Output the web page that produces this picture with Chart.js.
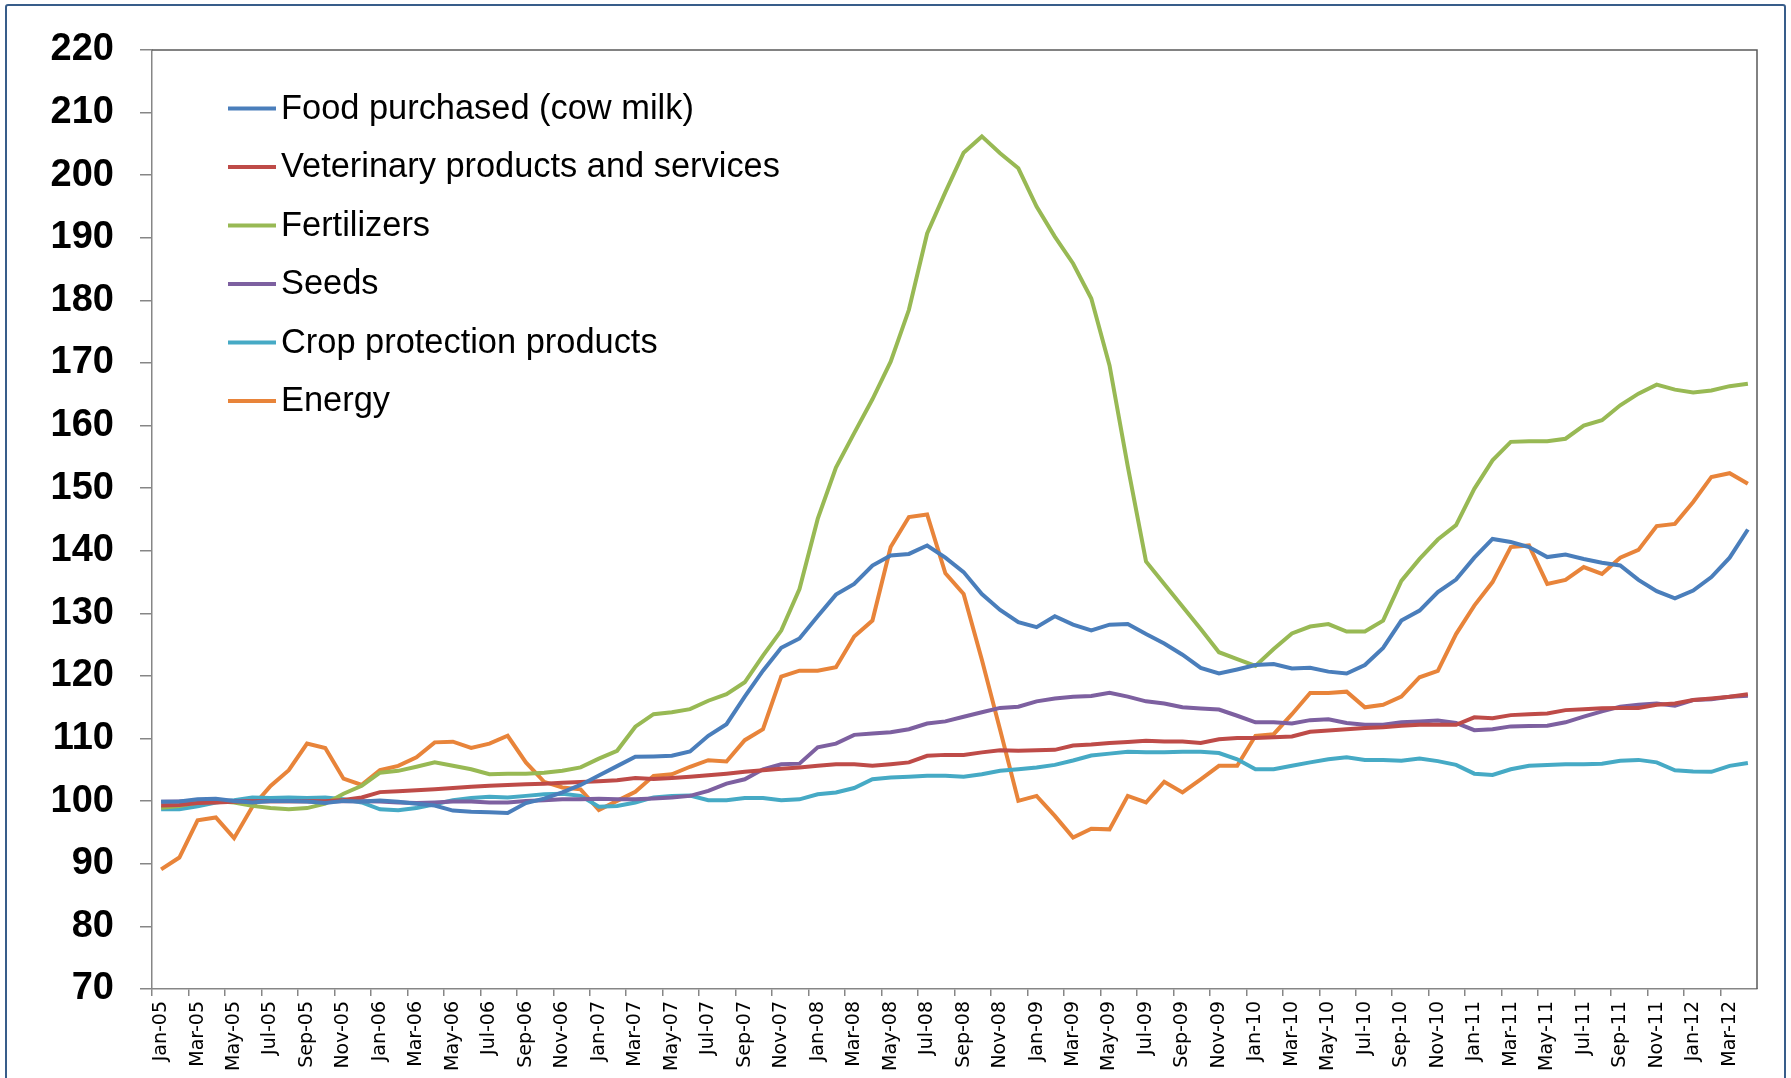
<!DOCTYPE html>
<html>
<head>
<meta charset="utf-8">
<script src="https://cdn.jsdelivr.net/npm/chart.js@4.4.1/dist/chart.umd.min.js"></script>
<style>
  html, body { margin: 0; padding: 0; background: #fff; overflow: hidden; }
  #wrap { position: relative; width: 1791px; height: 1078px; }
  #chart { position: absolute; left: 0; top: 0; }
  #frame {
    position: absolute; left: 5px; top: 4px; width: 1777px; height: 1200px;
    border: 2.5px solid #385d8a; border-radius: 3px; pointer-events: none;
  }
</style>
</head>
<body>
<div id="wrap">
  <canvas id="chart" width="1791" height="1078"></canvas>
  <div id="frame"></div>
</div>
<script>
const months = [
  "Jan-05","Feb-05","Mar-05","Apr-05","May-05","Jun-05","Jul-05","Aug-05","Sep-05","Oct-05","Nov-05","Dec-05",
  "Jan-06","Feb-06","Mar-06","Apr-06","May-06","Jun-06","Jul-06","Aug-06","Sep-06","Oct-06","Nov-06","Dec-06",
  "Jan-07","Feb-07","Mar-07","Apr-07","May-07","Jun-07","Jul-07","Aug-07","Sep-07","Oct-07","Nov-07","Dec-07",
  "Jan-08","Feb-08","Mar-08","Apr-08","May-08","Jun-08","Jul-08","Aug-08","Sep-08","Oct-08","Nov-08","Dec-08",
  "Jan-09","Feb-09","Mar-09","Apr-09","May-09","Jun-09","Jul-09","Aug-09","Sep-09","Oct-09","Nov-09","Dec-09",
  "Jan-10","Feb-10","Mar-10","Apr-10","May-10","Jun-10","Jul-10","Aug-10","Sep-10","Oct-10","Nov-10","Dec-10",
  "Jan-11","Feb-11","Mar-11","Apr-11","May-11","Jun-11","Jul-11","Aug-11","Sep-11","Oct-11","Nov-11","Dec-11",
  "Jan-12","Feb-12","Mar-12","Apr-12"
];

const foodPurchased = [
  99.9, 99.95, 100.3, 100.4, 100.05, 99.8, 100.05, 100.05, 99.95, 99.7, 100.05, 99.95,
  100.1, 99.9, 99.6, 99.3, 98.5, 98.3, 98.25, 98.1, 99.7, 100.4, 101.4, 102.6,
  104.1, 105.6, 107.1, 107.15, 107.25, 107.95, 110.45, 112.3, 116.7, 120.85, 124.5, 126.0,
  129.55, 133.0, 134.7, 137.65, 139.25, 139.5, 140.85, 138.9, 136.6, 133.1, 130.55, 128.6,
  127.8, 129.55, 128.2, 127.3, 128.2, 128.3, 126.7, 125.2, 123.4, 121.3, 120.4, 121.05,
  121.75, 121.9, 121.2, 121.3, 120.7, 120.4, 121.75, 124.5, 128.85, 130.45, 133.4, 135.4,
  138.9, 141.9, 141.4, 140.6, 139.0, 139.4, 138.7, 138.1, 137.65, 135.35, 133.55, 132.4,
  133.65, 135.8, 138.9, 143.4
];

const veterinary = [
  99.3, 99.4, 99.7, 99.8, 99.9, 100.0, 100.0, 100.0, 100.0, 100.0, 100.2, 100.6,
  101.45, 101.6, 101.75, 101.9, 102.1, 102.3, 102.45, 102.6, 102.7, 102.8, 102.95, 103.05,
  103.2, 103.35, 103.7, 103.55, 103.7, 103.9, 104.15, 104.4, 104.7, 104.95, 105.2, 105.4,
  105.65, 105.9, 105.9, 105.65, 105.9, 106.2, 107.25, 107.4, 107.4, 107.8, 108.15, 108.05,
  108.15, 108.2, 108.9, 109.05, 109.3, 109.45, 109.65, 109.55, 109.55, 109.3, 109.9, 110.1,
  110.1, 110.2, 110.35, 111.1, 111.3, 111.5, 111.7, 111.8, 112.05, 112.2, 112.2, 112.2,
  113.4, 113.25, 113.75, 113.9, 114.0, 114.55, 114.7, 114.85, 114.9, 114.9, 115.4, 115.6,
  116.15, 116.4, 116.7, 117.1
];

const fertilizers = [
  98.95, 99.25, 99.8, 100.05, 99.8, 99.25, 98.9, 98.7, 98.9, 99.6, 101.2, 102.45,
  104.55, 104.85, 105.5, 106.2, 105.65, 105.1, 104.3, 104.4, 104.4, 104.55, 104.85, 105.4,
  106.8, 108.05, 111.9, 113.9, 114.2, 114.7, 116.05, 117.1, 119.0, 123.25, 127.25, 133.9,
  145.1, 153.3, 158.8, 164.2, 170.2, 178.5, 190.7, 197.3, 203.6, 206.2, 203.5, 201.1,
  195.0, 190.2, 185.9, 180.3, 169.6, 153.5, 138.3, 134.7, 131.1, 127.5, 123.8, 122.7,
  121.6, 124.3, 126.8, 127.9, 128.3, 127.1, 127.1, 128.85, 135.2, 138.7, 141.8, 144.1,
  149.9, 154.45, 157.4, 157.5, 157.5, 157.9, 160.0, 160.85, 163.25, 165.1, 166.55, 165.75,
  165.3, 165.6, 166.3, 166.7
];

const seeds = [
  99.9, 99.95, 100.05, 100.15, 100.05, 100.0, 100.0, 100.0, 100.0, 99.95, 100.0, 100.0,
  99.95, 99.8, 99.7, 99.8, 99.95, 99.95, 99.8, 99.8, 100.05, 100.15, 100.3, 100.3,
  100.4, 100.3, 100.3, 100.45, 100.6, 100.85, 101.65, 102.8, 103.5, 105.1, 105.9, 106.0,
  108.6, 109.2, 110.6, 110.8, 111.0, 111.5, 112.4, 112.75, 113.5, 114.2, 114.9, 115.1,
  115.95, 116.4, 116.7, 116.8, 117.3, 116.7, 115.95, 115.6, 115.0, 114.8, 114.65, 113.65,
  112.6, 112.6, 112.4, 112.95, 113.1, 112.5, 112.2, 112.2, 112.6, 112.75, 112.9, 112.5,
  111.35, 111.5, 111.95, 112.0, 112.05, 112.6, 113.5, 114.35, 115.1, 115.4, 115.6, 115.25,
  116.15, 116.3, 116.7, 116.85
];

const cropProtection = [
  98.7, 98.7, 99.2, 99.8, 100.15, 100.6, 100.5, 100.6, 100.5, 100.6, 100.3, 99.8,
  98.7, 98.55, 98.9, 99.5, 100.15, 100.5, 100.7, 100.6, 100.85, 101.1, 101.2, 100.85,
  99.1, 99.25, 99.8, 100.6, 100.85, 100.9, 100.15, 100.15, 100.5, 100.5, 100.15, 100.3,
  101.1, 101.4, 102.1, 103.5, 103.8, 103.9, 104.05, 104.05, 103.9, 104.3, 104.85, 105.1,
  105.4, 105.8, 106.5, 107.3, 107.6, 107.9, 107.8, 107.8, 107.9, 107.9, 107.7, 106.7,
  105.1, 105.1, 105.65, 106.2, 106.7, 107.0, 106.6, 106.6, 106.45, 106.8, 106.4, 105.8,
  104.4, 104.2, 105.1, 105.65, 105.8, 105.9, 105.9, 106.0, 106.45, 106.6, 106.2, 104.95,
  104.75, 104.7, 105.65, 106.1
];

const energy = [
  89.1, 91.0, 96.95, 97.4, 94.1, 99.1, 102.45, 104.95, 109.2, 108.5, 103.6, 102.6,
  104.95, 105.65, 107.0, 109.4, 109.5, 108.5, 109.2, 110.45, 106.2, 103.1, 102.2, 101.9,
  98.6, 100.05, 101.5, 104.05, 104.3, 105.5, 106.55, 106.35, 109.75, 111.5, 119.9, 120.85,
  120.85, 121.4, 126.3, 128.85, 140.6, 145.4, 145.8, 136.4, 133.1, 122.6, 111.4, 100.05,
  100.85, 97.65, 94.2, 95.6, 95.5, 100.85, 99.8, 103.1, 101.4, 103.5, 105.65, 105.65,
  110.45, 110.7, 113.9, 117.3, 117.3, 117.5, 115.0, 115.4, 116.7, 119.8, 120.8, 126.7,
  131.25, 135.0, 140.6, 140.85, 134.7, 135.35, 137.4, 136.3, 138.9, 140.15, 143.95, 144.3,
  147.8, 151.8, 152.4, 150.7
];

const seriesNames = [
  "Food purchased (cow milk)",
  "Veterinary products and services",
  "Fertilizers",
  "Seeds",
  "Crop protection products",
  "Energy"
];
const seriesColors = ["#4a7ebb", "#be4b48", "#98b954", "#7d60a0", "#46aac5", "#e8843a"];
const seriesValues = [foodPurchased, veterinary, fertilizers, seeds, cropProtection, energy];

const axisGray = "#868686";

// legend drawn inside the plot area, top left
const insideLegend = {
  id: "insideLegend",
  afterDraw(chart) {
    const ctx = chart.ctx;
    const rows = [108.5, 167, 225.5, 284, 342.5, 401];
    ctx.save();
    ctx.font = "34.4px 'Liberation Sans', Arial, sans-serif";
    ctx.textBaseline = "middle";
    ctx.fillStyle = "#000";
    chart.data.datasets.forEach((ds, i) => {
      const y = rows[i];
      ctx.strokeStyle = ds.borderColor;
      ctx.lineWidth = 4;
      ctx.beginPath();
      ctx.moveTo(228, y);
      ctx.lineTo(276, y);
      ctx.stroke();
      ctx.fillText(ds.label, 281, y + 1);
    });
    ctx.restore();
  }
};

// top and right edges of the plot area
const plotBorder = {
  id: "plotBorder",
  beforeDatasetsDraw(chart) {
    const { ctx, chartArea } = chart;
    ctx.save();
    ctx.strokeStyle = "#595959";
    ctx.lineWidth = 1.5;
    ctx.beginPath();
    ctx.moveTo(chartArea.left, chartArea.top);
    ctx.lineTo(chartArea.right, chartArea.top);
    ctx.lineTo(chartArea.right, chartArea.bottom);
    ctx.stroke();
    ctx.restore();
  }
};

new Chart(document.getElementById("chart"), {
  type: "line",
  data: {
    labels: months,
    datasets: seriesNames.map((name, i) => ({
      label: name,
      data: seriesValues[i],
      borderColor: seriesColors[i],
      backgroundColor: seriesColors[i],
      borderWidth: 4,
      pointRadius: 0,
      tension: 0,
      fill: false
    }))
  },
  options: {
    responsive: false,
    devicePixelRatio: 1,
    animation: false,
    layout: { padding: { top: 50, right: 34, left: 0, bottom: 0 } },
    plugins: {
      legend: { display: false },
      tooltip: { enabled: false }
    },
    scales: {
      x: {
        type: "category",
        offset: true,
        afterFit(scale) { scale.height = 89; },
        grid: {
          offset: true,
          drawOnChartArea: false,
          tickLength: 7,
          lineWidth: 1.5,
          color: (c) => (c.index % 2 === 0 ? axisGray : "rgba(0,0,0,0)")
        },
        border: { color: axisGray, width: 1.5 },
        ticks: {
          autoSkip: false,
          maxRotation: 90,
          minRotation: 90,
          padding: 5,
          color: "#000",
          font: { family: "'DejaVu Sans', Verdana, sans-serif", size: 19 },
          callback: (value, index) => (index % 2 === 0 ? months[index] : "")
        }
      },
      y: {
        min: 70,
        max: 220,
        afterFit(scale) { scale.width = 152; },
        grid: { drawOnChartArea: false, tickLength: 12, lineWidth: 1.5, color: axisGray },
        border: { color: axisGray, width: 1.5 },
        ticks: {
          stepSize: 10,
          padding: 26,
          color: "#000",
          font: { family: "'Liberation Sans', Arial, sans-serif", size: 38, weight: "bold" }
        }
      }
    }
  },
  plugins: [plotBorder, insideLegend]
});
</script>
</body>
</html>
